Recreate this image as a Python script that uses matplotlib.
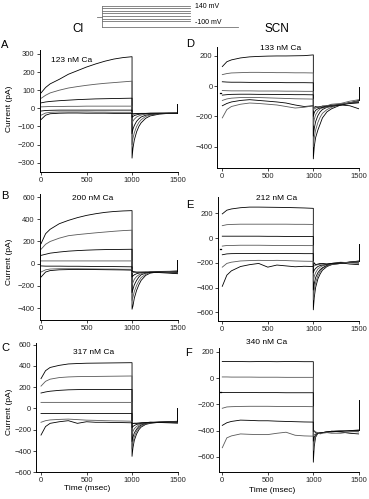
import matplotlib
matplotlib.use("Agg")
import matplotlib.pyplot as plt

W, H = 369, 499
plt.rcParams["font.family"] = ["Liberation Sans", "DejaVu Sans"]

# shared time grids (ms)
STEP_T = [0, 50, 100, 200, 300, 400, 500, 600, 700, 800, 900, 1000]
TAIL_T = [1000, 1010, 1025, 1050, 1075, 1100, 1150, 1200, 1300, 1400, 1500]

# voltage protocol (mV)
PROT_LEVELS = [140, 100, 60, 20, -20, -60, -100]
PROT_HOLD = -30
PROT_BASE = -183

# ---- Cl, 123 nM Ca (A)
A_STEP = [
    [85, 115, 135, 160, 188, 208, 228, 245, 260, 272, 280, 285],
    [55, 72, 85, 100, 112, 120, 127, 133, 138, 142, 146, 150],
    [30, 35, 38, 42, 45, 48, 50, 52, 53, 54, 55, 56],
    [8, 9, 10, 10, 11, 11, 12, 12, 12, 12, 12, 12],
    [-15, -12, -11, -10, -10, -10, -10, -10, -10, -10, -10, -10],
    [-38, -26, -22, -20, -20, -20, -20, -21, -21, -22, -22, -22],
    [-62, -38, -30, -27, -26, -26, -27, -27, -27, -28, -28, -28],
]
A_TAIL = [
    [-275, -220, -175, -130, -100, -80, -55, -42, -32, -28, -27],
    [-200, -165, -135, -100, -78, -63, -45, -37, -30, -28, -27],
    [-140, -115, -95, -72, -58, -48, -38, -33, -29, -27, -27],
    [-85, -70, -60, -48, -42, -37, -32, -30, -28, -27, -27],
    [-50, -45, -40, -36, -33, -31, -29, -28, -27, -27, -27],
    [-35, -33, -32, -30, -29, -28, -28, -27, -27, -27, -27],
    [-30, -30, -29, -29, -28, -28, -28, -27, -27, -27, -27],
]
A_SPIKE = 25
A_MARK = None

# ---- Cl, 200 nM Ca (B)
B_STEP = [
    [180, 270, 310, 360, 390, 415, 435, 450, 462, 470, 475, 478],
    [130, 175, 200, 230, 252, 262, 270, 278, 285, 292, 298, 302],
    [75, 85, 95, 105, 113, 118, 122, 125, 127, 128, 129, 130],
    [25, 25, 25, 25, 25, 25, 25, 25, 25, 25, 25, 25],
    [-20, -22, -22, -22, -23, -23, -24, -25, -25, -26, -27, -28],
    [-75, -55, -48, -45, -45, -45, -46, -47, -48, -48, -50, -50],
    [-120, -75, -62, -55, -53, -52, -52, -53, -54, -55, -56, -58],
]
B_TAIL = [
    [-410, -380, -310, -240, -190, -150, -105, -85, -72, -70, -65],
    [-330, -300, -250, -195, -155, -125, -95, -80, -70, -68, -68],
    [-260, -230, -190, -150, -120, -100, -85, -75, -70, -70, -72],
    [-190, -170, -140, -115, -100, -90, -80, -75, -72, -72, -75],
    [-120, -110, -100, -90, -85, -80, -78, -75, -75, -78, -80],
    [-80, -80, -80, -80, -78, -78, -76, -75, -78, -80, -85],
    [-70, -70, -72, -75, -75, -75, -75, -78, -80, -85, -90],
]
B_SPIKE = 30
B_MARK = None

# ---- Cl, 317 nM Ca (C)
C_STEP = [
    [280, 355, 385, 405, 418, 422, 425, 426, 427, 428, 429, 430],
    [210, 255, 275, 290, 296, 299, 300, 301, 302, 303, 304, 305],
    [145, 155, 162, 170, 175, 177, 178, 178, 178, 178, 178, 178],
    [57, 57, 57, 57, 57, 57, 57, 57, 57, 57, 57, 57],
    [-48, -48, -48, -48, -48, -48, -48, -48, -48, -48, -48, -48],
    [-130, -115, -108, -103, -100, -105, -110, -112, -115, -117, -118, -120],
    [-250, -170, -140, -125, -115, -140, -125, -130, -130, -132, -133, -135],
]
C_TAIL = [
    [-450, -370, -300, -240, -200, -175, -150, -140, -130, -125, -120],
    [-380, -320, -265, -215, -185, -165, -145, -135, -128, -125, -122],
    [-310, -270, -230, -195, -170, -155, -140, -133, -128, -125, -125],
    [-240, -215, -190, -170, -155, -148, -138, -133, -128, -128, -128],
    [-180, -170, -160, -150, -145, -140, -135, -130, -130, -130, -132],
    [-140, -140, -138, -138, -137, -135, -132, -130, -130, -132, -135],
    [-140, -142, -140, -140, -138, -135, -133, -130, -132, -135, -138],
]
C_SPIKE = 5
C_MARK = None

# ---- SCN, 133 nM Ca (D)
D_STEP = [
    [128, 160, 172, 185, 192, 195, 197, 198, 198, 199, 200, 205],
    [75, 82, 86, 88, 90, 90, 89, 88, 88, 87, 87, 86],
    [28, 26, 25, 25, 24, 24, 23, 23, 22, 22, 22, 21],
    [-30, -31, -32, -32, -32, -33, -33, -33, -34, -34, -35, -35],
    [-60, -57, -55, -54, -54, -55, -55, -56, -56, -57, -57, -58],
    [-95, -85, -80, -76, -75, -76, -78, -80, -82, -84, -85, -86],
    [-130, -115, -105, -95, -90, -95, -100, -105, -112, -125, -135, -130],
    [-210, -155, -135, -120, -112, -115, -120, -125, -135, -145, -140, -130],
]
D_TAIL = [
    [-480, -400, -340, -290, -250, -210, -170, -150, -125, -110, -95],
    [-400, -340, -290, -240, -205, -180, -155, -140, -125, -110, -100],
    [-330, -280, -235, -195, -170, -155, -140, -135, -120, -110, -105],
    [-260, -220, -190, -165, -150, -145, -140, -130, -120, -115, -110],
    [-200, -175, -160, -150, -145, -140, -135, -130, -125, -115, -110],
    [-160, -150, -145, -140, -140, -135, -130, -130, -120, -110, -100],
    [-140, -140, -135, -140, -135, -140, -130, -125, -125, -130, -150],
    [-140, -140, -145, -135, -140, -130, -130, -120, -115, -100, -90],
]
D_SPIKE = -5
D_MARK = -44

# ---- SCN, 212 nM Ca (E)
E_STEP = [
    [195, 225, 235, 245, 250, 250, 249, 248, 247, 245, 243, 240],
    [100, 108, 110, 112, 112, 112, 112, 112, 112, 111, 111, 110],
    [15, 15, 15, 15, 15, 15, 14, 14, 13, 13, 12, 12],
    [-65, -60, -60, -58, -58, -58, -59, -60, -60, -60, -61, -61],
    [-135, -128, -126, -125, -125, -124, -125, -125, -124, -125, -126, -126],
    [-235, -205, -195, -185, -182, -180, -182, -180, -182, -185, -187, -188],
    [-390, -300, -265, -230, -215, -205, -235, -218, -225, -232, -228, -230],
]
E_TAIL = [
    [-580, -480, -400, -330, -290, -260, -230, -215, -205, -195, -185],
    [-500, -420, -360, -305, -270, -245, -225, -215, -205, -195, -190],
    [-420, -370, -320, -280, -255, -240, -220, -210, -200, -195, -190],
    [-350, -310, -280, -250, -235, -225, -215, -210, -200, -195, -190],
    [-280, -260, -245, -230, -222, -218, -212, -205, -200, -195, -195],
    [-230, -225, -220, -215, -212, -210, -210, -205, -195, -200, -205],
    [-230, -200, -215, -210, -205, -205, -210, -205, -200, -210, -215],
]
E_SPIKE = -45
E_MARK = -90

# ---- SCN, 340 nM Ca (F)
F_STEP = [
    [125, 126, 125, 125, 124, 125, 125, 124, 125, 125, 124, 124],
    [8, 8, 7, 7, 7, 6, 6, 6, 5, 5, 5, 5],
    [-110, -110, -110, -110, -110, -111, -111, -111, -112, -112, -112, -112],
    [-230, -220, -218, -216, -215, -215, -215, -216, -216, -217, -217, -218],
    [-360, -340, -330, -320, -322, -325, -325, -328, -330, -332, -334, -335],
    [-530, -455, -440, -425, -428, -430, -430, -420, -412, -435, -440, -442],
]
F_TAIL = [
    [-640, -520, -450, -420, -420, -415, -410, -410, -405, -400, -395],
    [-550, -480, -440, -420, -418, -415, -412, -408, -400, -400, -400],
    [-480, -450, -430, -420, -415, -415, -410, -405, -405, -400, -400],
    [-440, -430, -425, -420, -418, -415, -410, -405, -400, -405, -410],
    [-410, -405, -415, -420, -420, -415, -410, -405, -410, -420, -425],
    [-420, -400, -410, -415, -425, -420, -415, -420, -420, -410, -405],
]
F_SPIKE = -165
F_MARK = -110

XTICKS = [0, 500, 1000, 1500]


def px_axes(fig, left, top, right, bottom):
    return fig.add_axes([left / W, 1 - bottom / H, (right - left) / W, (bottom - top) / H])


def ftext(fig, x, y, s, **kw):
    fig.text(x / W, 1 - y / H, s, **kw)


def panel(fig, box, xlim, ylim, yticks, steps, tails, spike, mark, title, tpos):
    ax = px_axes(fig, *box)
    for k, (s, tl) in enumerate(zip(steps, tails)):
        col = "0.35" if k % 2 else "black"
        ax.plot(STEP_T + TAIL_T, s + tl, color=col, lw=0.6)
    # end-of-sweep artifact
    ax.plot([1497, 1497], [tails[0][-1], spike], color="black", lw=0.7, clip_on=False)
    if mark is not None:
        ax.plot([-30, -18], [mark, mark], color="black", lw=0.9)
    ax.set_xlim(*xlim)
    ax.set_ylim(*ylim)
    ax.set_xticks(XTICKS)
    ax.set_yticks(yticks)
    for sp in ("top", "right"):
        ax.spines[sp].set_visible(False)
    for sp in ("left", "bottom"):
        ax.spines[sp].set_linewidth(0.7)
    ax.tick_params(labelsize=5.5, length=2, width=0.6, pad=1.5, colors="0.15")
    ax.patch.set_alpha(0)
    ftext(fig, tpos[0], tpos[1], title, fontsize=6, ha="center", va="center")
    return ax


fig = plt.figure(figsize=(W / 100, H / 100), dpi=100)

panel(fig, (39.5, 50, 178, 171.7), (-17, 1505), (-350, 322), range(-300, 301, 100),
      A_STEP, A_TAIL, A_SPIKE, A_MARK, "123 nM Ca", (72, 61))
panel(fig, (39.5, 194.3, 178, 320), (-17, 1505), (-507, 625), range(-400, 601, 200),
      B_STEP, B_TAIL, B_SPIKE, B_MARK, "200 nM Ca", (93, 198))
panel(fig, (36, 343, 178, 472.3), (-55, 1505), (-600, 615), range(-600, 601, 200),
      C_STEP, C_TAIL, C_SPIKE, C_MARK, "317 nM Ca", (94, 353))
panel(fig, (217.3, 47.3, 359.3, 168.3), (-55, 1505), (-542, 255), range(-400, 201, 200),
      D_STEP, D_TAIL, D_SPIKE, D_MARK, "133 nM Ca", (281, 48))
panel(fig, (218, 196.7, 359.3, 321), (-47, 1505), (-670, 334), range(-600, 201, 200),
      E_STEP, E_TAIL, E_SPIKE, E_MARK, "212 nM Ca", (277, 198))
panel(fig, (219, 348, 359.3, 471.7), (-36, 1505), (-712, 228), range(-600, 201, 200),
      F_STEP, F_TAIL, F_SPIKE, F_MARK, "340 nM Ca", (267, 342))

# voltage protocol inset
pax = px_axes(fig, 95, 2, 245, 30)
for v in PROT_LEVELS:
    pax.plot([0, 1000], [v, v], color="0.45", lw=0.6)
pax.plot([0, 1546], [PROT_BASE, PROT_BASE], color="0.45", lw=0.6)
pax.plot([0, 0], [PROT_BASE, PROT_LEVELS[0]], color="0.45", lw=0.6)
pax.plot([-53, 0], [PROT_HOLD, PROT_HOLD], color="0.45", lw=0.6)
pax.set_xlim(-76, 1623)
pax.set_ylim(-234, 197)
pax.axis("off")
ftext(fig, 195, 6, "140 mV", fontsize=5, va="center")
ftext(fig, 195, 22.5, "-100 mV", fontsize=5, va="center")

ftext(fig, 78, 29, "Cl", fontsize=8.5, ha="center", va="center")
ftext(fig, 277, 29, "SCN", fontsize=8.5, ha="center", va="center")

for lab, x, y in [("A", 5, 45), ("B", 5, 196), ("C", 5, 348),
                  ("D", 190, 44), ("E", 190, 205), ("F", 189, 353)]:
    ftext(fig, x, y, lab, fontsize=8, ha="center", va="center")

for yc in (109, 262, 412):
    ftext(fig, 10, yc, "Current (pA)", fontsize=6, rotation=90, ha="center", va="center")

ftext(fig, 87, 489, "Time (msec)", fontsize=6, ha="center", va="center")
ftext(fig, 272, 490, "Time (msec)", fontsize=6, ha="center", va="center")

fig.savefig("out.png", dpi=100)
